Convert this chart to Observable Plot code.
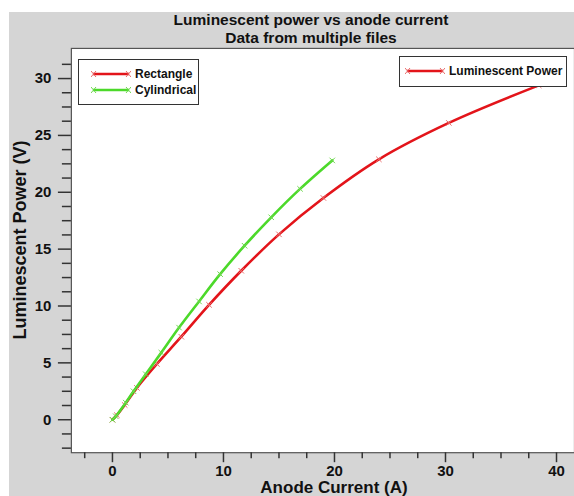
<!DOCTYPE html>
<html>
<head>
<meta charset="utf-8">
<script src="https://cdn.jsdelivr.net/npm/d3@7"></script>
<script src="https://cdn.jsdelivr.net/npm/@observablehq/plot@0.6"></script>
<style>
  html, body { margin: 0; padding: 0; background: #fff; }
  #wrap { position: relative; width: 574px; height: 496px; overflow: hidden; font-family: "Liberation Sans", Arial, sans-serif; }
  #bg { position: absolute; left: 9px; top: 12px; right: 0; bottom: 0; background: #d5d5d5; }
  #chart { position: absolute; left: 0; top: 0; }
  .t { position: absolute; font-weight: bold; color: #111; white-space: nowrap; }
  .legend { position: absolute; background: #fff; border: 1px solid #333; box-sizing: border-box; }
  .legend .row { position: absolute; display: flex; align-items: center; font-weight: bold; font-size: 12px; color: #111; white-space: nowrap; }
</style>
</head>
<body>
<div id="wrap">
  <div id="bg"></div>
  <div id="chart"></div>
</div>
<script>
// ---- data ----
const rectX = [0, 0.4, 1.1, 2.2, 4.0, 6.2, 8.7, 11.6, 15.0, 19.0, 24.0, 30.3, 38.4];
const rectY = [0, 0.4, 1.3, 2.8, 4.9, 7.3, 10.1, 13.1, 16.3, 19.5, 22.9, 26.1, 29.4];
const cylX  = [0, 0.3, 1.2, 1.9, 3.0, 4.4, 6.0, 7.8, 9.7, 11.9, 14.3, 16.9, 19.8];
const cylY  = [0, 0.3, 1.5, 2.5, 4.0, 5.9, 8.1, 10.4, 12.8, 15.3, 17.8, 20.3, 22.8];
const xTicks = [0, 10, 20, 30, 40];
const yTicks = [0, 5, 10, 15, 20, 25, 30];
const xMinorTicks = [-2.5, 2.5, 5, 7.5, 12.5, 15, 17.5, 22.5, 25, 27.5, 32.5, 35, 37.5];
const yMinorTicks = [-2.5, -1.25, 1.25, 2.5, 3.75, 6.25, 7.5, 8.75, 11.25, 12.5, 13.75, 16.25, 17.5, 18.75, 21.25, 22.5, 23.75, 26.25, 27.5, 28.75, 31.25];
const titleLines = ["Luminescent power vs anode current", "Data from multiple files"];
const xTitle = "Anode Current (A)";
const yTitle = "Luminescent Power (V)";
const seriesNames = ["Rectangle", "Cylindrical"];
const legend2Name = "Luminescent Power";

const RED = "#e3141a";
const GREEN = "#4cd92a";
const RED_M = "#e86a6a";
const GREEN_M = "#6fd84f";

const rect = rectX.map((x, i) => ({x, y: rectY[i]}));
const cyl = cylX.map((x, i) => ({x, y: cylY[i]}));

const tickStyle = {stroke: "#333", strokeWidth: 1.5};
const plot = Plot.plot({
  width: 575,
  height: 496,
  marginLeft: 71,
  marginRight: 0,
  marginTop: 48,
  marginBottom: 43,
  style: {background: "transparent", fontFamily: "Liberation Sans, Arial, sans-serif", overflow: "visible"},
  x: {domain: [-3.7, 41.62], label: null},
  y: {domain: [-2.9, 32.65], label: null},
  marks: [
    Plot.frame({fill: "white", stroke: "#555", strokeWidth: 1.2}),
    Plot.axisX(xMinorTicks, {tickSize: 6, text: null, ...tickStyle}),
    Plot.axisX(xTicks, {tickSize: 10, tickPadding: 3, fontSize: 15, fontWeight: "bold", fill: "#111", ...tickStyle}),
    Plot.axisY(yMinorTicks, {tickSize: 9, text: null, ...tickStyle}),
    Plot.axisY(yTicks, {tickSize: 13, tickPadding: 7, fontSize: 15, fontWeight: "bold", fill: "#111", ...tickStyle}),
    Plot.line(rect, {x: "x", y: "y", stroke: RED, strokeWidth: 2.6, curve: "catmull-rom"}),
    Plot.dot(rect, {x: "x", y: "y", symbol: "times", r: 2.6, stroke: RED_M, strokeWidth: 1}),
    Plot.line(cyl, {x: "x", y: "y", stroke: GREEN, strokeWidth: 2.6, curve: "catmull-rom"}),
    Plot.dot(cyl, {x: "x", y: "y", symbol: "times", r: 2.6, stroke: GREEN_M, strokeWidth: 1})
  ]
});
document.getElementById("chart").appendChild(plot);

const wrap = document.getElementById("wrap");
function addText(txt, css) {
  const d = document.createElement("div");
  d.className = "t";
  d.textContent = txt;
  Object.assign(d.style, css);
  wrap.appendChild(d);
  return d;
}
addText(titleLines[0], {left: "311px", top: "11px", fontSize: "15.5px", transform: "translateX(-50%)"});
addText(titleLines[1], {left: "311px", top: "29px", fontSize: "15.5px", transform: "translateX(-50%)"});
addText(xTitle, {left: "334px", top: "478px", fontSize: "17px", transform: "translateX(-50%)"});
addText(yTitle, {left: "20px", top: "240px", fontSize: "18px", transform: "translate(-50%,-50%) rotate(-90deg)"});

function legendSample(color, mcolor) {
  return `<svg width="40" height="8" style="margin-right:4px"><line x1="2" y1="4" x2="38" y2="4" stroke="${color}" stroke-width="2.6"/>` +
    `<path d="M0,1L5,7M0,7L5,1M35,1L40,7M35,7L40,1" stroke="${mcolor}" stroke-width="1"/></svg>`;
}
function addLegend(box, rows) {
  const l = document.createElement("div");
  l.className = "legend";
  Object.assign(l.style, box);
  rows.forEach(r => {
    const row = document.createElement("div");
    row.className = "row";
    row.style.left = r.left; row.style.top = r.top;
    row.innerHTML = legendSample(r.color, r.mcolor) + `<span>${r.name}</span>`;
    l.appendChild(row);
  });
  wrap.appendChild(l);
}
addLegend({left: "78px", top: "59px", width: "121px", height: "46px"}, [
  {name: seriesNames[0], color: RED, mcolor: RED_M, left: "12px", top: "7px"},
  {name: seriesNames[1], color: GREEN, mcolor: GREEN_M, left: "12px", top: "23px"}
]);
addLegend({left: "399px", top: "56px", width: "168px", height: "31px"}, [
  {name: legend2Name, color: RED, mcolor: RED_M, left: "5px", top: "7px"}
]);
</script>
</body>
</html>
